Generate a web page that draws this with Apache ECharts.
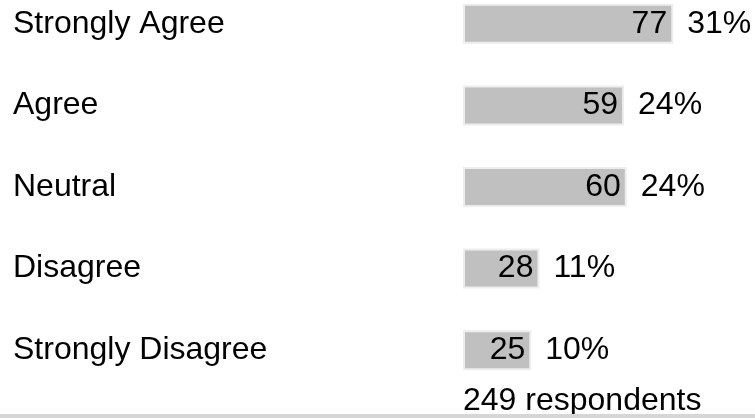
<!DOCTYPE html>
<html>
	<head>
		<meta charset="utf-8">
		<title>Survey</title>
		<style type="text/css">
			html,body {
				margin: 0;
				padding: 0;
				width: 100%;
				height: 100%;
				background: #FFFFFF;
			}
			#chart {
				width: 755px;
				height: 418px;
			}
		</style>
	</head>
	<body>
		<div id="chart"></div>
	</body>
</html>
<script src="https://cdn.jsdelivr.net/npm/echarts@6/dist/echarts.min.js" type="text/javascript" charset="utf-8"></script>
<script type="text/javascript">
	var categories = ['Strongly Agree', 'Agree', 'Neutral', 'Disagree', 'Strongly Disagree'];
	var counts = [77, 59, 60, 28, 25];
	var percents = [31, 24, 24, 11, 10];
	var respondents = 249;

	var font = '"Liberation Sans", Arial, sans-serif';
	var myChart = echarts.init(document.getElementById('chart'));
	var option = {
		animation: false,
		textStyle: { fontFamily: font },
		grid: {
			left: 463,
			top: -17,
			width: 273,
			height: 408,
			containLabel: false,
			outerBoundsMode: 'none'
		},
		xAxis: {
			type: 'value',
			min: 0,
			max: 100,
			show: false
		},
		yAxis: {
			type: 'category',
			inverse: true,
			data: categories,
			axisLine: { show: false },
			axisTick: { show: false },
			axisLabel: {
				align: 'left',
				margin: 450,
				color: '#000',
				fontSize: 32,
				fontFamily: font
			}
		},
		series: [{
			type: 'bar',
			data: counts,
			barWidth: 40,
			itemStyle: {
				color: '#c0c0c0',
				borderColor: '#ededed',
				borderWidth: 2
			},
			label: {
				show: true,
				position: 'insideRight',
				distance: 6,
				color: '#000',
				fontSize: 32,
				fontFamily: font
			}
		}, {
			// 百分比标签，透明柱子叠在上面
			type: 'bar',
			data: counts,
			barWidth: 40,
			barGap: '-100%',
			itemStyle: { color: 'rgba(0,0,0,0)' },
			label: {
				show: true,
				position: 'right',
				distance: 14,
				color: '#000',
				fontSize: 32,
				fontFamily: font,
				formatter: function (p) {
					return percents[p.dataIndex] + '%';
				}
			}
		}],
		graphic: [{
			type: 'text',
			left: 463,
			top: 385,
			style: {
				text: respondents + ' respondents',
				fill: '#000',
				font: '32px ' + font
			}
		}, {
			type: 'rect',
			shape: { x: 0, y: 414, width: 755, height: 4 },
			style: { fill: '#d6d6d6' }
		}]
	};
	myChart.setOption(option);
</script>
